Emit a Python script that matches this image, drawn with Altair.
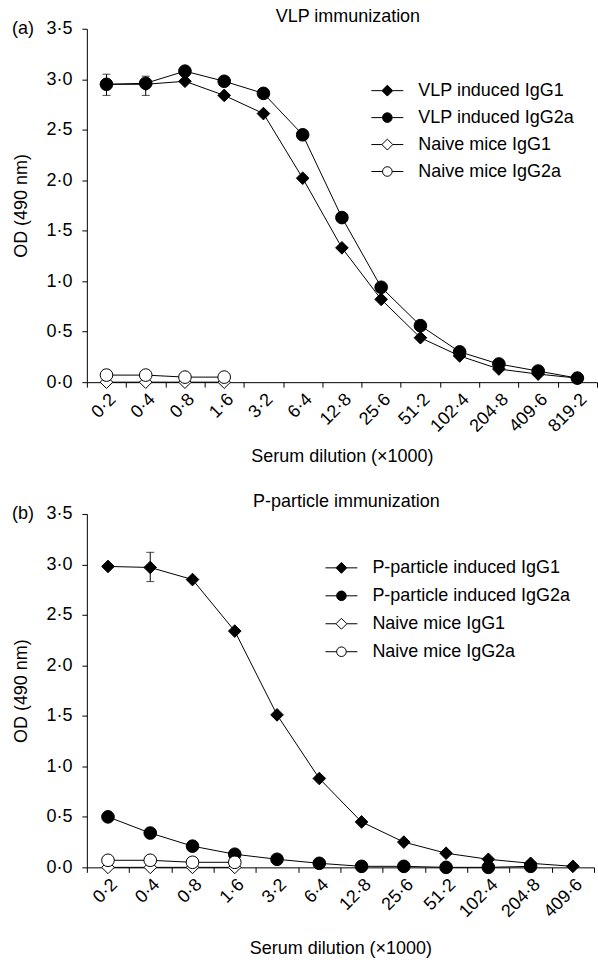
import altair as alt
import pandas as pd

FONT = "Liberation Sans"
FS = 18

# ---- Panel (a): VLP immunization ----
dil_a = ["0·2", "0·4", "0·8", "1·6", "3·2", "6·4", "12·8", "25·6", "51·2",
         "102·4", "204·8", "409·6", "819·2"]
vlp_igg1 = [2.95, 2.95, 2.98, 2.84, 2.66, 2.02, 1.33, 0.82, 0.44, 0.26, 0.13, 0.08, 0.04]
vlp_igg2a = [2.95, 2.96, 3.08, 2.98, 2.86, 2.45, 1.63, 0.94, 0.56, 0.30, 0.18, 0.11, 0.04]
naive_igg1_a = [0.0, 0.0, 0.0, 0.0]
naive_igg2a_a = [0.07, 0.07, 0.05, 0.05]
err_a_dil = ["0·2", "0·4"]
err_a_lo = [2.84, 2.84]
err_a_hi = [3.05, 3.03]

# ---- Panel (b): P-particle immunization ----
dil_b = ["0·2", "0·4", "0·8", "1·6", "3·2", "6·4", "12·8", "25·6", "51·2",
         "102·4", "204·8", "409·6"]
pp_igg1 = [2.98, 2.97, 2.85, 2.34, 1.51, 0.88, 0.45, 0.25, 0.14, 0.08, 0.04, 0.01]
pp_igg2a = [0.50, 0.34, 0.21, 0.13, 0.08, 0.04, 0.01, 0.01, 0.0, 0.0, 0.01]
naive_igg1_b = [0.0, 0.0, 0.0, 0.0]
naive_igg2a_b = [0.07, 0.07, 0.05, 0.05]
err_b_dil = ["0·4"]
err_b_lo = [2.83]
err_b_hi = [3.12]

DIAMOND_LEG = "M-2,0H-0.68M0.68,0H2M0,-0.68L0.68,0L0,0.68L-0.68,0Z"
CIRCLE_LEG = "M-2,0H-0.6M0.6,0H2M0.6,0A0.6,0.6,0,1,1,-0.6,0A0.6,0.6,0,1,1,0.6,0Z"
SHAPES = ["diamond", "circle", "diamond", "circle"]
FILLS = ["black", "black", "white", "white"]


def panel(dils, series, err_dil, err_lo, err_hi, title, tag, width, lx, ly,
          row_pad, x_title_pad):
    names = [s[0] for s in series]
    rows = []
    for name, vals in series:
        for i, v in enumerate(vals):
            rows.append({"dil": dils[i], "idx": i, "od": v, "series": name})
    df = pd.DataFrame(rows)
    edf = pd.DataFrame({"dil": err_dil, "lo": err_lo, "hi": err_hi})

    xscale = alt.Scale(type="band", domain=dils, paddingInner=0, paddingOuter=0)
    yscale = alt.Scale(domain=[0, 3.5], nice=False)
    x = alt.X("dil:N", scale=xscale, sort=dils, title="Serum dilution (×1000)",
              axis=alt.Axis(labelAngle=-45, tickBand="extent", tickSize=5,
                            labelPadding=3, titlePadding=x_title_pad, labelFontSize=FS,
                            titleFontSize=FS, labelFont=FONT, titleFont=FONT,
                            titleFontWeight="normal"))
    y = alt.Y("od:Q", scale=yscale, title="OD (490 nm)",
              axis=alt.Axis(values=[0, 0.5, 1, 1.5, 2, 2.5, 3, 3.5],
                            labelExpr="replace(format(datum.value, '.1f'), '.', '·')",
                            tickSize=5, labelPadding=10, titlePadding=15,
                            labelFontSize=FS, titleFontSize=FS, labelFont=FONT,
                            titleFont=FONT, titleFontWeight="normal"))
    xs = alt.X("dil:N", scale=xscale, sort=dils)

    base = alt.Chart(df)
    layers = [base.mark_line(color="black", strokeWidth=1).encode(
        x=x, y=y, detail="series:N", order="idx:Q")]
    ebase = alt.Chart(edf)
    layers.append(ebase.mark_rule(color="black", strokeWidth=1).encode(
        x=xs, y=alt.Y("lo:Q", scale=yscale), y2="hi:Q"))
    for fld in ["lo", "hi"]:
        layers.append(ebase.mark_tick(color="black", thickness=1, size=8).encode(
            x=xs, y=alt.Y(f"{fld}:Q", scale=yscale)))

    for name, shp, fil in zip(names, SHAPES, FILLS):
        layers.append(base.transform_filter(alt.datum.series == name).mark_point(
            shape=shp, filled=True, fill=fil, stroke="black", strokeWidth=1,
            opacity=1, size=160).encode(x=x, y=y))

    leg = alt.Legend(orient="none", legendX=lx, legendY=ly, title=None,
                     symbolSize=256, symbolOpacity=1, symbolStrokeColor="black",
                     symbolStrokeWidth=1, labelFontSize=FS, labelFont=FONT,
                     labelColor="black", labelOffset=22, rowPadding=row_pad, padding=0,
                     labelLimit=400)
    layers.append(base.mark_point(filled=True, opacity=0, strokeWidth=1, size=160).encode(
        x=x, y=y,
        shape=alt.Shape("series:N", scale=alt.Scale(domain=names,
                        range=[DIAMOND_LEG, CIRCLE_LEG, DIAMOND_LEG, CIRCLE_LEG]), legend=leg),
        fill=alt.Fill("series:N", scale=alt.Scale(domain=names, range=FILLS), legend=leg),
        stroke=alt.Stroke("series:N", scale=alt.Scale(domain=names,
                          range=["black"] * 4), legend=leg),
    ))
    layers.append(alt.Chart(pd.DataFrame({"t": [tag]})).mark_text(
        align="left", baseline="middle", fontSize=FS, font=FONT, color="black"
    ).encode(x=alt.value(-75), y=alt.value(0), text="t:N"))

    return alt.layer(*layers).properties(
        width=width, height=354,
        title=alt.Title(title, fontSize=FS, font=FONT, fontWeight="normal",
                        anchor="middle", offset=-6, dx=6, color="black", frame="group"),
    )


top = panel(dil_a, [("VLP induced IgG1", vlp_igg1), ("VLP induced IgG2a", vlp_igg2a),
                    ("Naive mice IgG1", naive_igg1_a), ("Naive mice IgG2a", naive_igg2a_a)],
            err_a_dil, err_a_lo, err_a_hi, "VLP immunization", "(a)", 511, 292, 53, 9, 12)
bottom = panel(dil_b, [("P-particle induced IgG1", pp_igg1), ("P-particle induced IgG2a", pp_igg2a),
                       ("Naive mice IgG1", naive_igg1_b), ("Naive mice IgG2a", naive_igg2a_b)],
               err_b_dil, err_b_lo, err_b_hi, "P-particle immunization", "(b)", 508, 246, 45, 10, 19)

chart = alt.vconcat(top, bottom, spacing=27).resolve_scale(
    x="independent", y="independent", shape="independent", fill="independent",
    stroke="independent"
).properties(
    padding={"left": 12, "top": 7, "right": 0, "bottom": 0}, background="white"
).configure_view(stroke=None).configure_axis(
    grid=False, domainColor="black", tickColor="black", labelColor="black",
    titleColor="black", domainWidth=1, tickWidth=1
)

chart.save("out.html", embed_options={"renderer": "svg", "actions": False})
